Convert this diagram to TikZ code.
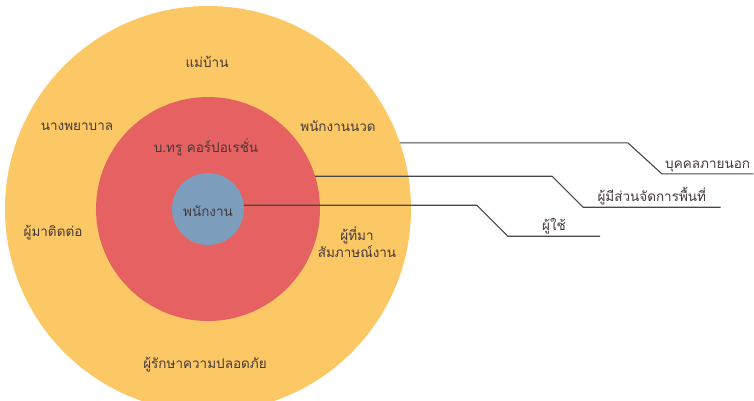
\documentclass[tikz,border=0pt]{standalone}
\usepackage{fontspec}
\newfontfamily\thaifont[Script=Thai]{Loma}
\usetikzlibrary{positioning}
\definecolor{ringout}{HTML}{FCC865}
\definecolor{ringmid}{HTML}{E66262}
\definecolor{ringin}{HTML}{7C9EBC}
\definecolor{txtgray}{HTML}{45393A}
\definecolor{linegray}{HTML}{474747}

\begin{document}
\begin{tikzpicture}[x=1pt, y=-1pt,
  ring/.style={circle, inner sep=0pt, outer sep=0pt, minimum size=#1},
  lbl/.style={font=\thaifont\fontsize{13.5}{15}\selectfont, text=txtgray, inner sep=1pt, align=center},
  tag/.style={lbl, anchor=south west, inner sep=2pt},
  lead/.style={draw=linegray, line width=1.1pt}]
\useasboundingbox (0,0) rectangle (754,400);
\begin{scope}
\clip (0,0) rectangle (754,400);
\node[ring=406pt, fill=ringout] (outer) at (208,209) {};
\node[ring=224pt, fill=ringmid] (mid) at (outer.center) {};
\node[ring=72pt, fill=ringin] (core) at (outer.center) {};
\end{scope}

% texts in the rings
\path (207,62) node[lbl] (maid) {แม่บ้าน};
\path (77,127) node[lbl] (nurse) {นางพยาบาล};
\path (338,126) node[lbl] (massage) {พนักงานนวด};
\path (53,233) node[lbl] (visitor) {ผู้มาติดต่อ};
\path (357,242) node[lbl] (interview) {ผู้ที่มา\\สัมภาษณ์งาน};
\path (205,365) node[lbl] (guard) {ผู้รักษาความปลอดภัย};
\path (206,147) node[lbl] (corp) {บ.ทรู คอร์ปอเรชั่น};
\path (core.center) ++(0,2) node[lbl] (staff) {พนักงาน};

% leader lines
\path (outer.19.27) ++(262,31) node[tag, minimum width=91pt] (ext) {บุคคลภายนอก};
\draw[lead] (outer.19.27) -- ++(228,0) -- (ext.south west) -- (ext.south east);
\path (mid.17.1) ++(268,31) node[tag, minimum width=137pt] (mgr) {ผู้มีส่วนจัดการพื้นที่};
\draw[lead] (mid.17.1) -- ++(237,0) -- (mgr.south west) -- (mgr.south east);
\path (core.6.4) ++(264,31) node[tag, minimum width=92pt] (user) {ผู้ใช้};
\draw[lead] (core.6.4) -- ++(233,0) -- (user.south west) -- (user.south east);
\end{tikzpicture}
\end{document}
